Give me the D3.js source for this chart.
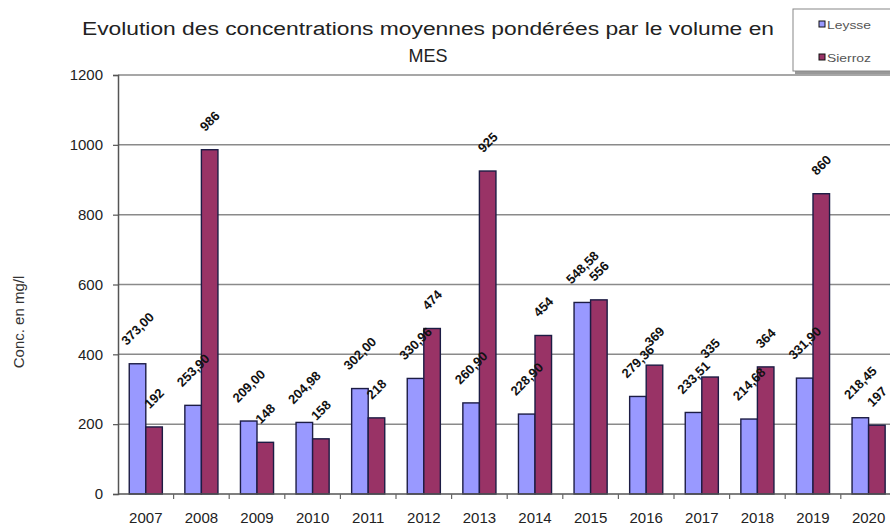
<!DOCTYPE html>
<html>
<head>
<meta charset="utf-8">
<script src="https://cdn.jsdelivr.net/npm/d3@7"></script>
<style>
  body { margin: 0; background: #fff; }
  svg { display: block; font-family: "Liberation Sans", Arial, sans-serif; }
</style>
</head>
<body>
<div id="chart"></div>
<script>
// chart values
const years = ['2007', '2008', '2009', '2010', '2011', '2012', '2013', '2014', '2015', '2016', '2017', '2018', '2019', '2020'];
const seriesNames = ['Leysse', 'Sierroz'];
const leysse = [373.00, 253.90, 209.00, 204.98, 302.00, 330.96, 260.90, 228.90, 548.58, 279.36, 233.51, 214.68, 331.90, 218.45];
const sierroz = [192, 986, 148, 158, 218, 474, 925, 454, 556, 369, 335, 364, 860, 197];
const yTicks = [0, 200, 400, 600, 800, 1000, 1200];
const titleLines = ['Evolution des concentrations moyennes pondérées par le volume en', 'MES'];
const yTitle = 'Conc. en mg/l';

const width = 890, height = 525;
const margin = { top: 75, left: 118, bottom: 31 };
const bandW = 55.6;
const colors = { Leysse: '#9999ff', Sierroz: '#993366' };

const fr = d3.formatLocale({ decimal: ',', thousands: ' ', grouping: [3], currency: ['', ' €'] });
const fmt = { Leysse: fr.format('.2f'), Sierroz: fr.format('d') };

const rows = years.map((yr, i) => ({ year: yr, Leysse: leysse[i], Sierroz: sierroz[i] }));

const x = d3.scaleBand()
  .domain(years)
  .range([margin.left, margin.left + bandW * years.length])
  .padding(0);

const xs = d3.scaleBand()
  .domain(seriesNames)
  .range([0, x.bandwidth()])
  .paddingInner(0)
  .paddingOuter(0.68);

const y = d3.scaleLinear()
  .domain([0, 1200])
  .range([height - margin.bottom, margin.top]);

const svg = d3.select('#chart').append('svg')
  .attr('width', width)
  .attr('height', height);

svg.append('rect').attr('width', width).attr('height', height).attr('fill', '#fff');

// gridlines
svg.append('g')
  .selectAll('line')
  .data(yTicks.filter(d => d > 0))
  .join('line')
  .attr('x1', margin.left)
  .attr('x2', width)
  .attr('y1', d => y(d))
  .attr('y2', d => y(d))
  .attr('stroke', '#8a8a8a')
  .attr('stroke-width', 1.5);

// bars
const groups = svg.append('g')
  .selectAll('g')
  .data(rows)
  .join('g')
  .attr('transform', d => `translate(${x(d.year)},0)`);

groups.selectAll('rect')
  .data(d => seriesNames.map(k => ({ key: k, value: d[k] })))
  .join('rect')
  .attr('x', d => xs(d.key))
  .attr('y', d => y(d.value))
  .attr('width', xs.bandwidth())
  .attr('height', d => y(0) - y(d.value))
  .attr('fill', d => colors[d.key])
  .attr('stroke', '#1c1c44')
  .attr('stroke-width', 1.4);

// y axis
const yAxis = svg.append('g')
  .attr('transform', `translate(${margin.left},0)`)
  .call(d3.axisLeft(y).tickValues(yTicks).tickSize(5).tickPadding(10).tickFormat(d3.format('d')));
yAxis.select('.domain').attr('stroke', '#555').attr('stroke-width', 1.5);
yAxis.selectAll('.tick line').attr('stroke', '#555').attr('stroke-width', 1.2);
yAxis.selectAll('.tick text')
  .attr('font-size', 15)
  .attr('fill', '#222')
  .attr('font-family', '"Liberation Sans", Arial, sans-serif');

// x axis
const xAxis = svg.append('g')
  .attr('transform', `translate(0,${y(0)})`)
  .call(d3.axisBottom(x).tickSize(0).tickPadding(18));
xAxis.select('.domain').remove();
xAxis.selectAll('.tick text')
  .attr('font-size', 15)
  .attr('fill', '#222')
  .attr('font-family', '"Liberation Sans", Arial, sans-serif');

svg.append('line')
  .attr('x1', margin.left).attr('x2', width)
  .attr('y1', y(0)).attr('y2', y(0))
  .attr('stroke', '#555').attr('stroke-width', 1.5);

svg.append('g')
  .selectAll('line')
  .data(years.slice(1))
  .join('line')
  .attr('x1', d => x(d)).attr('x2', d => x(d))
  .attr('y1', y(0)).attr('y2', y(0) + 5)
  .attr('stroke', '#666').attr('stroke-width', 1.2);

// data labels, rotated 45° above each bar
const c45 = Math.SQRT1_2;
groups.selectAll('text.lbl')
  .data(d => seriesNames.map(k => ({ key: k, value: d[k] })))
  .join('text')
  .attr('class', 'lbl')
  .attr('text-anchor', 'middle')
  .attr('dy', '0.35em')
  .attr('font-size', 13)
  .attr('font-weight', 'bold')
  .attr('fill', '#111')
  .text(d => fmt[d.key](d.value))
  .each(function (d) {
    const L = this.getComputedTextLength() || 0;
    const cx = xs(d.key) + xs.bandwidth() / 2;
    const cy = y(d.value) - 21 - L * 0.354;
    this.setAttribute('transform', `matrix(${c45},${-c45},${c45},${c45},${cx},${cy})`);
  });

// title
svg.append('text')
  .attr('x', 428).attr('y', 35)
  .attr('text-anchor', 'middle')
  .attr('font-size', 18)
  .attr('fill', '#222')
  .attr('textLength', 692)
  .attr('lengthAdjust', 'spacingAndGlyphs')
  .text(titleLines[0]);
svg.append('text')
  .attr('x', 428).attr('y', 62)
  .attr('text-anchor', 'middle')
  .attr('font-size', 18)
  .attr('fill', '#222')
  .text(titleLines[1]);

// y title
svg.append('text')
  .attr('transform', 'translate(24,322) rotate(-90)')
  .attr('text-anchor', 'middle')
  .attr('font-size', 15)
  .attr('fill', '#333')
  .text(yTitle);

// legend
const lg = svg.append('g').attr('transform', 'translate(793,9)');
lg.append('rect')
  .attr('x', 2).attr('y', 2)
  .attr('width', 110).attr('height', 63)
  .attr('fill', '#999');
lg.append('rect')
  .attr('width', 110).attr('height', 62)
  .attr('fill', '#fff')
  .attr('stroke', '#888')
  .attr('stroke-width', 1);
const items = lg.selectAll('g.item')
  .data(seriesNames)
  .join('g')
  .attr('class', 'item')
  .attr('transform', (d, i) => `translate(26,${16 + i * 33})`);
items.append('rect')
  .attr('x', 0).attr('y', -4)
  .attr('width', 6).attr('height', 6)
  .attr('fill', d => colors[d])
  .attr('stroke', '#111').attr('stroke-width', 1);
items.append('text')
  .attr('x', 8).attr('y', 0)
  .attr('dominant-baseline', 'central')
  .attr('font-size', 11)
  .attr('fill', '#555')
  .attr('textLength', 44)
  .attr('lengthAdjust', 'spacingAndGlyphs')
  .text(d => d);
</script>
</body>
</html>
